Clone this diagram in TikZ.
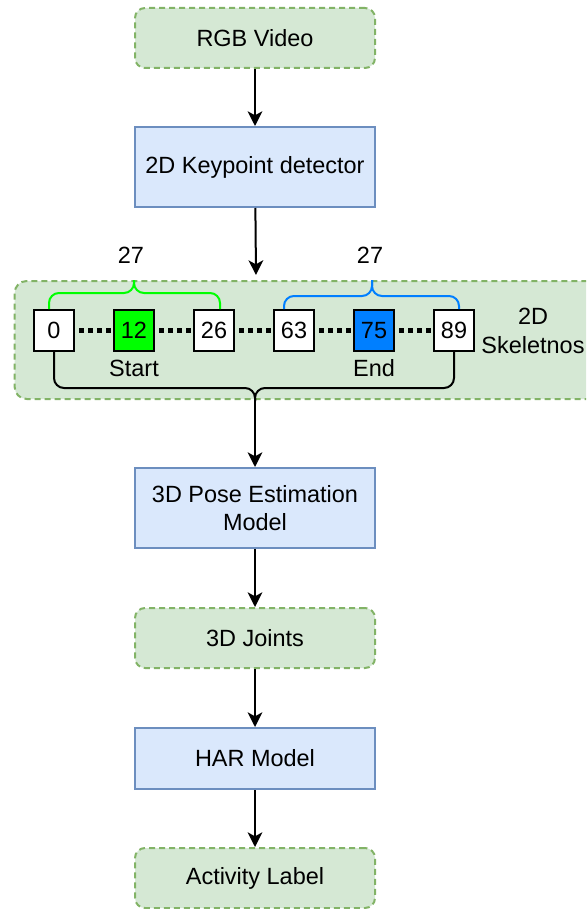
\documentclass[tikz,border=0pt]{standalone}
\usepackage{fontspec}
\setmainfont{Liberation Sans}
\definecolor{SoftGreen}{HTML}{d5e8d4}
\definecolor{GreenLine}{HTML}{82b366}
\definecolor{SoftBlue}{HTML}{dae8fc}
\definecolor{BlueLine}{HTML}{6c8ebf}
\definecolor{StartGreen}{HTML}{00FF00}
\definecolor{EndBlue}{HTML}{007FFF}
\usetikzlibrary{positioning, arrows.meta, calc}

\tikzset{
  greenbox/.style={draw=GreenLine, fill=SoftGreen, line width=1.5pt,
    dash pattern=on 4.5pt off 3pt, rounded corners=7.5pt,
    minimum width=180pt, minimum height=45pt, align=center},
  bluebox/.style={draw=BlueLine, fill=SoftBlue, line width=1.5pt,
    minimum width=180pt, minimum height=60pt, align=center},
  cell/.style={draw=black, fill=white, line width=1.5pt, inner sep=0pt,
    minimum width=30pt, minimum height=30.75pt},
  dots/.style={line width=3.75pt, dash pattern=on 3.75pt off 3pt, dash phase=3.75pt},
  arr/.style={line width=1.5pt, -{Stealth[length=11pt, width=11pt, inset=3pt]}},
  brace/.style={line width=1.5pt, rounded corners=7.5pt}
}

\begin{document}
\begin{tikzpicture}[x=0.75pt, y=-0.75pt, font=\fontsize{17.6}{21.5}\selectfont]
    \path[use as bounding box] (0,0) rectangle (586,909);
    \clip (0,0) rectangle (586,909);

    % pipeline
    \node[greenbox] (rgb) at (255,38) {RGB Video};
    \node[bluebox] (kp) at (255,167) {2D Keypoint detector};

    % skeleton sequence
    \node[greenbox, minimum width=446pt, minimum height=88.5pt, rounded corners=9pt] (skel) at (312,340) {};
    \node[cell] (b0) at (54,330.5) {0};
    \node[cell, fill=StartGreen] (b12) at (134,330.5) {12};
    \node[cell] (b26) at (214,330.5) {26};
    \node[cell] (b63) at (294,330.5) {63};
    \node[cell, fill=EndBlue] (b75) at (374,330.5) {75};
    \node[cell] (b89) at (454,330.5) {89};
    \draw[dots] (b0) -- (b12);
    \draw[dots] (b12) -- (b26);
    \draw[dots] (b26) -- (b63);
    \draw[dots] (b63) -- (b75);
    \draw[dots] (b75) -- (b89);
    \node (start) at (134,368) {Start};
    \node (end) at (374,368) {End};
    \node[align=center] (skeltxt) at (533,331) {2D\\Skeletnos};

    \coordinate (gtop) at (134,280);
    \coordinate (btop) at (372,280);
    \coordinate (ktip) at (255,401);
    \draw[brace, StartGreen] ([xshift=-3.75pt]b0.north) |- (134,293) -- (gtop);
    \draw[brace, StartGreen] (gtop) -- (134,293) -| ([xshift=4.5pt]b26.north);
    \draw[brace, EndBlue] ([xshift=-7.5pt]b63.north) |- (372,296) -- (btop);
    \draw[brace, EndBlue] (btop) -- (372,296) -| ([xshift=3.75pt]b89.north);
    \draw[brace] (b0.south) |- (255,388) -- (ktip);
    \draw[brace] (ktip) -- (255,388) -| (b89.south);
    \node (len1) at (131,255) {27};
    \node (len2) at (370,255) {27};

    \node[bluebox, minimum height=60pt] (pose) at (255,508) {3D Pose Estimation\\Model};
    \node[greenbox] (joints) at (255,638) {3D Joints};
    \node[bluebox, minimum height=45.75pt] (har) at (255,758.5) {HAR Model};
    \node[greenbox] (act) at (255,878) {Activity Label};

    % arrows
    \coordinate (skin) at (256,275);
    \draw[arr] (rgb) -- (kp);
    \draw[arr] (kp) -- (skin);
    \draw[arr] (ktip) -- (pose);
    \draw[arr] (pose) -- (joints);
    \draw[arr] (joints) -- (har);
    \draw[arr] (har) -- (act);
\end{tikzpicture}
\end{document}
